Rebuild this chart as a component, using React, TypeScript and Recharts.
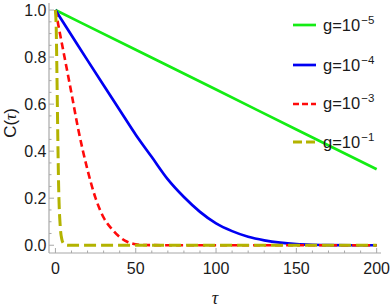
import React from "react";
import { LineChart, Line, XAxis, YAxis } from "recharts";

// values
const tauG5 = [0, 50, 100, 150, 200];
const cG5 = [1, 0.831, 0.662, 0.492, 0.323];

const tauG4 = [0, 10, 20, 30, 40, 50, 60, 70, 80, 90, 100, 110, 120, 130, 140, 150, 160, 170, 185, 200];
const cG4 = [1, 0.893, 0.786, 0.68, 0.575, 0.47, 0.375, 0.28, 0.205, 0.142, 0.093, 0.06, 0.036, 0.021, 0.011, 0.005, 0.002, 0.0005, 0, 0];

const tauG3 = [0, 5, 10, 14, 17, 20, 25, 30, 35, 40, 45, 50, 55, 70, 200];
const cG3 = [1, 0.823, 0.646, 0.5, 0.405, 0.32, 0.2, 0.118, 0.07, 0.035, 0.014, 0.004, 0.001, 0, 0];

const tauG1 = [0, 0.5, 1, 1.5, 2, 3, 4, 5, 6, 8, 200];
const cG1 = [1, 0.92, 0.7, 0.45, 0.25, 0.08, 0.025, 0.008, 0.002, 0, 0];

const xTicks = [0, 10, 20, 30, 40, 50, 60, 70, 80, 90, 100, 110, 120, 130, 140, 150, 160, 170, 180, 190, 200];
const xMajor = [0, 50, 100, 150, 200];
const yTicks = [0, 0.05, 0.1, 0.15, 0.2, 0.25, 0.3, 0.35, 0.4, 0.45, 0.5, 0.55, 0.6, 0.65, 0.7, 0.75, 0.8, 0.85, 0.9, 0.95, 1];
const yMajor = [0, 0.2, 0.4, 0.6, 0.8, 1];

const GREEN = "#14ec14";
const BLUE = "#0000f2";
const RED = "#ff0a0a";
const OLIVE = "#b3b300";
const FRAME = "#a8a8a8";
const TEXT = "#1a1a1a";

const toPoints = (tau: number[], c: number[]) => tau.map((t, i) => ({ tau: t, c: c[i] }));

const series = [
  { name: "g5", exp: "\u22125", tau: tauG5, c: cG5, color: GREEN, dash: undefined, width: 2.7 },
  { name: "g4", exp: "\u22124", tau: tauG4, c: cG4, color: BLUE, dash: undefined, width: 2.7 },
  { name: "g3", exp: "\u22123", tau: tauG3, c: cG3, color: RED, dash: "7 4", width: 2.6 },
  { name: "g1", exp: "\u22121", tau: tauG1, c: cG1, color: OLIVE, dash: "12 5", width: 3 },
];

const isMajorX = (v: number) => xMajor.includes(v);
const isMajorY = (v: number) => yMajor.some((m) => Math.abs(m - v) < 1e-6);

const BottomTick = ({ x, y, payload }: any) => {
  const major = isMajorX(payload.value);
  return (
    <g>
      <line x1={x} x2={x} y1={y} y2={y - (major ? 5 : 2.5)} stroke={FRAME} />
      {major && (
        <text x={x} y={y + 21} textAnchor="middle" fontSize={16} fill={TEXT}>
          {payload.value}
        </text>
      )}
    </g>
  );
};

const TopTick = ({ x, y, payload }: any) => {
  const major = isMajorX(payload.value);
  return <line x1={x} x2={x} y1={y} y2={y + (major ? 5 : 2.5)} stroke={FRAME} />;
};

const LeftTick = ({ x, y, payload }: any) => {
  const major = isMajorY(payload.value);
  return (
    <g>
      <line x1={x} x2={x + (major ? 5 : 2.5)} y1={y} y2={y} stroke={FRAME} />
      {major && (
        <text x={x - 2.5} y={y} dy="0.36em" textAnchor="end" fontSize={16} fill={TEXT}>
          {payload.value.toFixed(1)}
        </text>
      )}
    </g>
  );
};

const RightTick = ({ x, y, payload }: any) => {
  const major = isMajorY(payload.value);
  return <line x1={x} x2={x - (major ? 5 : 2.5)} y1={y} y2={y} stroke={FRAME} />;
};

const legendTops = [25, 65, 103.5, 142];

export default function App() {
  return (
    <div
      style={{
        position: "absolute",
        left: 0,
        top: 0,
        width: 390,
        height: 308,
        background: "#fff",
        fontFamily: "'Liberation Sans', Arial, sans-serif",
      }}
    >
      <LineChart width={390} height={308} margin={{ top: 3, right: 9, bottom: 0, left: 0 }}>
        <XAxis
          xAxisId="b"
          type="number"
          dataKey="tau"
          domain={[-4, 202.7]}
          allowDataOverflow
          ticks={xTicks}
          interval={0}
          height={55}
          tickSize={0}
          tickMargin={0}
          tickLine={false}
          axisLine={{ stroke: FRAME, strokeWidth: 1.2 }}
          tick={(p: any) => <BottomTick {...p} />}
        />
        <XAxis
          xAxisId="t"
          orientation="top"
          type="number"
          dataKey="tau"
          domain={[-4, 202.7]}
          allowDataOverflow
          ticks={xTicks}
          interval={0}
          height={0}
          tickSize={0}
          tickMargin={0}
          tickLine={false}
          axisLine={{ stroke: FRAME, strokeWidth: 1.2 }}
          tick={(p: any) => <TopTick {...p} />}
        />
        <YAxis
          yAxisId="l"
          type="number"
          domain={[-0.033, 1.03]}
          allowDataOverflow
          ticks={yTicks}
          interval={0}
          width={49}
          tickSize={0}
          tickMargin={0}
          tickLine={false}
          axisLine={{ stroke: FRAME, strokeWidth: 1.2 }}
          tick={(p: any) => <LeftTick {...p} />}
        />
        <YAxis
          yAxisId="r"
          orientation="right"
          type="number"
          domain={[-0.033, 1.03]}
          allowDataOverflow
          ticks={yTicks}
          interval={0}
          width={0}
          tickSize={0}
          tickMargin={0}
          tickLine={false}
          axisLine={{ stroke: FRAME, strokeWidth: 1.2 }}
          tick={(p: any) => <RightTick {...p} />}
        />
        {series.map((s) => (
          <Line
            key={s.name}
            xAxisId="b"
            yAxisId="l"
            data={toPoints(s.tau, s.c)}
            dataKey="c"
            type="monotone"
            stroke={s.color}
            strokeWidth={s.width}
            strokeDasharray={s.dash}
            dot={false}
            activeDot={false}
            isAnimationActive={false}
          />
        ))}
      </LineChart>

      {/* legend */}
      {series.map((s, i) => (
        <div
          key={s.name}
          style={{
            position: "absolute",
            left: 293,
            top: legendTops[i] - 10,
            height: 20,
            display: "flex",
            alignItems: "center",
            whiteSpace: "nowrap",
          }}
        >
          <svg width={23} height={6}>
            <line
              x1={0}
              x2={23}
              y1={3}
              y2={3}
              stroke={s.color}
              strokeWidth={s.width}
              strokeDasharray={s.dash ? (s.width > 2.8 ? "9 4" : "6 3") : undefined}
            />
          </svg>
          <span style={{ marginLeft: 7, fontSize: 16.5, color: TEXT }}>
            g=10
            <span style={{ fontSize: 11.5, position: "relative", top: -7, marginLeft: 1 }}>{s.exp}</span>
          </span>
        </div>
      ))}

      {/* axis titles */}
      <div
        style={{
          position: "absolute",
          left: 11,
          top: 123,
          transform: "translate(-50%, -50%) rotate(-90deg)",
          fontSize: 17,
          color: TEXT,
          whiteSpace: "nowrap",
        }}
      >
        C(<span style={{ fontFamily: "'Liberation Serif', serif", fontStyle: "italic" }}>τ</span>)
      </div>
      <div
        style={{
          position: "absolute",
          left: 215,
          top: 298,
          transform: "translate(-50%, -50%)",
          fontSize: 18,
          color: TEXT,
          fontFamily: "'Liberation Serif', serif",
          fontStyle: "italic",
        }}
      >
        τ
      </div>
    </div>
  );
}
